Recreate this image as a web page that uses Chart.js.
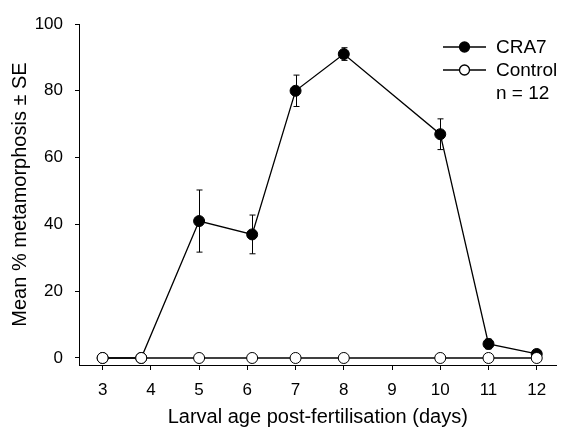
<!DOCTYPE html>
<html>
<head>
<meta charset="utf-8">
<script src="https://cdn.jsdelivr.net/npm/chart.js@4"></script>
<style>
  html, body { margin: 0; padding: 0; background: #fff; }
  #wrap { width: 563px; height: 429px; }
</style>
</head>
<body>
<div id="wrap"><canvas id="myChart" width="563" height="429"></canvas></div>
<script>
// values
const days = [3, 3.8, 5, 6.1, 7, 8, 10, 11, 12]
const cra7 = [0, 0, 41, 37, 80, 91, 67, 4.2, 1.2]
const cra7Se = [0, 0, 9.3, 5.8, 4.7, 1.9, 4.6, 1.5, 0.4]
const control = [0, 0, 0, 0, 0, 0, 0, 0, 0]
const xTicks = [3, 4, 5, 6, 7, 8, 9, 10, 11, 12]
const yTicks = [0, 20, 40, 60, 80, 100]

const FONT = 'Liberation Sans, Arial, sans-serif'

function toPoints(xs, ys) {
    return xs.map((x, i) => ({ x: x, y: ys[i] }))
}

// error bars for CRA7, drawn under the markers
const errorBars = {
    id: 'errorBars',
    beforeDatasetsDraw(chart) {
        const ctx = chart.ctx
        const xs = chart.scales.x
        const ys = chart.scales.y
        ctx.save()
        ctx.strokeStyle = '#000'
        ctx.lineWidth = 1
        for (let i = 0; i < days.length; i++) {
            if (!cra7Se[i]) continue
            const px = Math.round(xs.getPixelForValue(days[i])) + 0.5
            const top = ys.getPixelForValue(cra7[i] + cra7Se[i])
            const bot = ys.getPixelForValue(cra7[i] - cra7Se[i])
            ctx.beginPath()
            ctx.moveTo(px, top); ctx.lineTo(px, bot)
            ctx.moveTo(px - 3, top); ctx.lineTo(px + 3, top)
            ctx.moveTo(px - 3, bot); ctx.lineTo(px + 3, bot)
            ctx.stroke()
        }
        ctx.restore()
    }
}

// legend like the original, top right
const figLegend = {
    id: 'figLegend',
    afterDraw(chart) {
        const ctx = chart.ctx
        const rows = [
            { label: 'CRA7', fill: '#000', y: 47 },
            { label: 'Control', fill: '#fff', y: 70 }
        ]
        ctx.save()
        ctx.strokeStyle = '#000'
        ctx.lineWidth = 1.3
        ctx.font = '19px ' + FONT
        ctx.fillStyle = '#000'
        ctx.textBaseline = 'middle'
        rows.forEach(r => {
            ctx.beginPath()
            ctx.moveTo(443, r.y); ctx.lineTo(486, r.y)
            ctx.stroke()
            ctx.beginPath()
            ctx.arc(464.5, r.y, 5, 0, Math.PI * 2)
            ctx.fillStyle = r.fill
            ctx.fill()
            ctx.stroke()
            ctx.fillStyle = '#000'
            ctx.fillText(r.label, 496, r.y + 1)
        })
        ctx.fillText('n = 12', 496, 94)
        ctx.restore()
    }
}

const ctx = document.getElementById('myChart')
const myChart = new Chart(ctx, {
    type: 'line',
    data: {
        datasets: [
            {
                label: 'Control',
                data: toPoints(days, control),
                borderColor: '#000',
                borderWidth: 1.3,
                pointBackgroundColor: '#fff',
                pointBorderColor: '#000',
                pointBorderWidth: 1,
                pointRadius: 5.5,
                order: 0
            },
            {
                label: 'CRA7',
                data: toPoints(days, cra7),
                borderColor: '#000',
                borderWidth: 1.3,
                pointBackgroundColor: '#000',
                pointBorderColor: '#000',
                pointBorderWidth: 1,
                pointRadius: 5.5,
                order: 1
            }
        ]
    },
    options: {
        responsive: false,
        animation: false,
        layout: { padding: { left: 0, right: 3, top: 24, bottom: 0 } },
        plugins: {
            legend: { display: false },
            tooltip: { enabled: false }
        },
        scales: {
            x: {
                type: 'linear',
                min: 2.51,
                max: 12.41,
                afterBuildTicks: s => { s.ticks = xTicks.map(v => ({ value: v })) },
                afterFit: s => { s.height = 64 },
                border: { display: true, color: '#000', width: 1 },
                grid: { drawOnChartArea: false, drawTicks: true, tickLength: 5, color: '#000' },
                ticks: { color: '#000', padding: 10, maxRotation: 0, font: { family: FONT, size: 17 } },
                title: {
                    display: true,
                    text: 'Larval age post-fertilisation (days)',
                    color: '#000',
                    font: { family: FONT, size: 20 },
                    padding: { top: 0, bottom: 0 }
                }
            },
            y: {
                min: -2.1,
                max: 100,
                afterBuildTicks: s => { s.ticks = yTicks.map(v => ({ value: v })) },
                afterFit: s => { s.width = 79 },
                border: { display: true, color: '#000', width: 1 },
                grid: { drawOnChartArea: false, drawTicks: true, tickLength: 4, color: '#000' },
                ticks: { color: '#000', padding: 12, font: { family: FONT, size: 17 } },
                title: {
                    display: true,
                    text: 'Mean % metamorphosis ± SE',
                    color: '#000',
                    font: { family: FONT, size: 20 },
                    padding: { top: 8, bottom: 0 }
                }
            }
        }
    },
    plugins: [errorBars, figLegend]
})
</script>
</body>
</html>
